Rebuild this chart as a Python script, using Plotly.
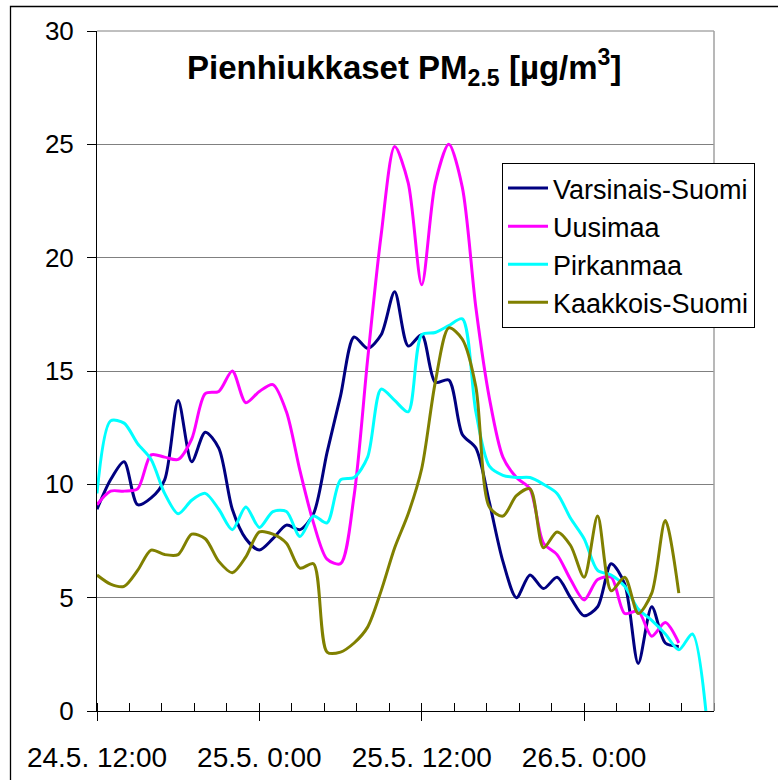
import plotly.graph_objects as go

# hours since 24.5. 12:00
hours = list(range(44))
hours_pirkanmaa = list(range(46))

varsinais_suomi = [8.9, 10.2, 11.0, 9.1, 9.4, 10.2, 13.7, 11.0, 12.3, 11.6,
                   8.9, 7.6, 7.1, 7.6, 8.2, 8.0, 8.7, 11.4, 13.9, 16.5,
                   16.0, 16.6, 18.5, 16.1, 16.6, 14.5, 14.6, 12.2, 11.6, 9.2,
                   6.6, 5.0, 6.0, 5.4, 5.9, 5.0, 4.2, 4.6, 6.5, 5.6,
                   2.1, 4.6, 3.0, 2.85]
uusimaa = [9.1, 9.7, 9.7, 9.8, 11.3, 11.2, 11.1, 12.0, 14.0, 14.1,
           15.0, 13.6, 14.1, 14.4, 13.2, 10.6, 8.3, 6.7, 6.5, 9.5,
           15.5, 21.0, 24.9, 23.3, 18.8, 23.3, 25.0, 23.1, 17.8, 13.8,
           11.2, 10.3, 9.8, 7.4, 6.9, 5.8, 4.9, 5.8, 5.9, 4.3,
           4.4, 3.3, 3.9, 3.0]
pirkanmaa = [9.6, 12.8, 12.7, 11.8, 11.1, 9.6, 8.7, 9.3, 9.6, 8.9,
             8.0, 9.0, 8.1, 8.8, 8.8, 7.7, 8.6, 8.3, 10.2, 10.3,
             11.2, 14.2, 13.7, 13.2, 16.6, 16.7, 17.0, 17.3, 13.2, 10.8,
             10.4, 10.3, 10.3, 10.0, 9.6, 8.5, 7.6, 6.2, 6.0, 5.5,
             4.5, 4.0, 3.4, 2.7, 3.4, 0.0]
kaakkois_suomi = [6.0, 5.6, 5.5, 6.2, 7.1, 6.9, 6.9, 7.8, 7.6, 6.6,
                  6.1, 6.8, 7.9, 7.8, 7.4, 6.3, 6.5, 2.6, 2.6, 3.0,
                  3.7, 5.3, 7.2, 8.7, 10.7, 14.5, 16.9, 16.4, 14.3, 9.0,
                  8.6, 9.5, 9.8, 7.2, 7.9, 7.3, 5.9, 8.6, 5.3, 5.9,
                  4.3, 5.2, 8.4, 5.2]

series_names = ["Varsinais-Suomi", "Uusimaa", "Pirkanmaa", "Kaakkois-Suomi"]
series_colors = ["#000080", "#FF00FF", "#00FFFF", "#808000"]

major_tick_hours = [0, 12, 24, 36]
major_tick_labels = ["24.5. 12:00", "25.5. 0:00", "25.5. 12:00", "26.5. 0:00"]
minor_step = 2.4
x_end = 45.6

title_text = "<b>Pienhiukkaset PM<sub>2.5</sub> [µg/m<sup>3</sup>]</b>"

FONT = "Liberation Sans, Arial, sans-serif"

fig = go.Figure()
data = [(hours, varsinais_suomi), (hours, uusimaa), (hours_pirkanmaa, pirkanmaa), (hours, kaakkois_suomi)]
for (xs, ys), name, color in zip(data, series_names, series_colors):
    fig.add_trace(go.Scatter(x=xs, y=ys, name=name, mode="lines",
                             line=dict(color=color, width=3, shape="spline", smoothing=0.8)))

W, H = 778, 780
L, R, T, B = 97, 64, 31, 69
pw = W - L - R
ph = H - T - B

fig.update_layout(
    width=W, height=H,
    margin=dict(l=L, r=R, t=T, b=B, pad=0, autoexpand=False),
    paper_bgcolor="white", plot_bgcolor="white",
    font=dict(family=FONT, color="black", size=26),
    showlegend=True,
    legend=dict(x=(502 - L) / pw, y=(H - B - 163) / ph, xanchor="left", yanchor="top",
                bordercolor="black", borderwidth=1, bgcolor="white",
                font=dict(size=27, family=FONT), tracegroupgap=0, itemwidth=40),
    xaxis=dict(range=[0, x_end], tickmode="array", tickvals=major_tick_hours, ticktext=major_tick_labels,
               ticks="outside", ticklen=9, tickcolor="black", tickwidth=1,
               minor=dict(ticks="inside", ticklen=8, tickcolor="black", tick0=0, dtick=minor_step),
               showline=True, linecolor="black", linewidth=1, showgrid=False, zeroline=False,
               tickfont=dict(size=28), ticklabelstandoff=12, automargin=False),
    xaxis2=dict(range=[0, x_end], overlaying="x", anchor="y", side="bottom",
                tickmode="array", tickvals=major_tick_hours, ticks="inside", ticklen=8,
                tickcolor="black", tickwidth=1, showticklabels=False, showgrid=False,
                showline=False, zeroline=False, automargin=False),
    yaxis=dict(range=[0, 30], tickmode="linear", tick0=0, dtick=5,
               ticks="outside", ticklen=9, tickcolor="black",
               showline=True, linecolor="black", linewidth=1,
               showgrid=True, gridcolor="#808080", gridwidth=1, zeroline=False,
               tickfont=dict(size=26), ticklabelstandoff=8, automargin=False),
    annotations=[dict(text=title_text, xref="paper", yref="paper",
                      x=(404 - L) / pw, y=(H - B - 67) / ph, xanchor="center", yanchor="middle",
                      showarrow=False, font=dict(size=33, family=FONT, color="black"))],
    shapes=[
        dict(type="line", xref="paper", yref="paper", x0=0, x1=1, y0=1, y1=1,
             line=dict(color="#808080", width=1)),
        dict(type="line", xref="paper", yref="paper", x0=1, x1=1, y0=0, y1=1,
             line=dict(color="#a0a0a0", width=1.5)),
        dict(type="rect", xref="paper", yref="paper",
             x0=(10.5 - L) / pw, x1=(W + 5 - L) / pw,
             y0=(H - B - (H + 5)) / ph, y1=(H - B - 6.5) / ph,
             line=dict(color="black", width=1.3), layer="below"),
    ],
)

fig.write_html("out.html", config={"displayModeBar": False},
               post_script="document.body.style.margin='0';document.body.style.overflow='hidden';")
